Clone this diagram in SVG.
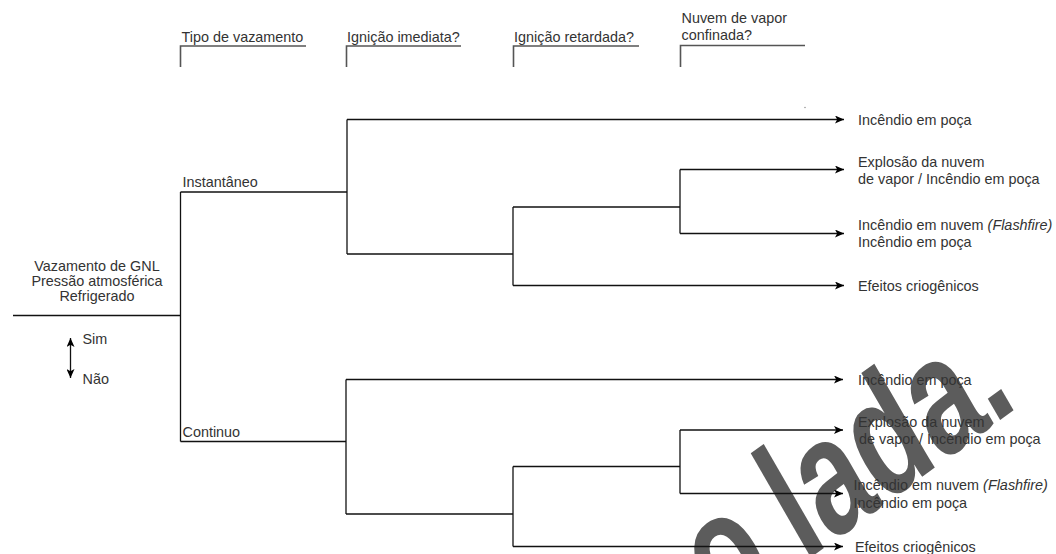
<svg xmlns="http://www.w3.org/2000/svg" width="1056" height="554" viewBox="0 0 1056 554">
  <defs>
    <marker id="arrow" viewBox="0 0 9 8" refX="9" refY="4" markerWidth="9" markerHeight="8" markerUnits="userSpaceOnUse" orient="auto-start-reverse">
      <path d="M0,0 L9,4 L0,8 L2.2,4 z" fill="#000"/>
    </marker>
    <style>
      text { font-family: "Liberation Sans", Arial, sans-serif; font-size: 14.4px; fill: #333; }
      .mid { text-anchor: middle; }
      .wire { fill: none; stroke: #111; stroke-width: 1.3; }
      .arr { fill: none; stroke: #111; stroke-width: 1.3; marker-end: url(#arrow); }
      .hdr { fill: none; stroke: #555; stroke-width: 1.6; }
      .stamp { font-family: "Liberation Sans", Arial, sans-serif; font-size: 165px; font-weight: bold; fill: #5c5c5c; text-anchor: end; }
    </style>
  </defs>

  <rect width="1056" height="554" fill="#fff"/>

  <!-- stamp in the background -->
  <g id="stamp" transform="translate(1020,405.6) rotate(-36) skewX(-6) scale(0.709,1)">
    <text class="stamp" x="-418" y="0">o</text>
    <text class="stamp" x="0" y="0">lada.</text>
  </g>

  <!-- column headers -->
  <g id="headers">
    <text x="181.5" y="41.5">Tipo de vazamento</text>
    <path class="hdr" d="M180.5,67 V46 H306"/>
    <text x="347" y="41.5">Ignição imediata?</text>
    <path class="hdr" d="M346.5,67 V46 H461"/>
    <text x="514" y="41.5">Ignição retardada?</text>
    <path class="hdr" d="M513.5,67 V46 H639"/>
    <text x="681.5" y="23">Nuvem de vapor</text>
    <text x="681.5" y="40">confinada?</text>
    <path class="hdr" d="M680.5,67 V45.5 H805"/>
  </g>
  <circle cx="805" cy="107.5" r="0.8" fill="#999"/>

  <!-- connectors -->
  <g id="connectors">
    <path class="wire" d="M13,315.5 H180.5"/>
    <path class="wire" d="M180.5,192 V441.5"/>
    <path class="wire" d="M180.5,192 H347"/>
    <path class="wire" d="M180.5,441.5 H346"/>

    <!-- upper subtree -->
    <path class="wire" d="M347,119.5 V254"/>
    <path class="arr" d="M347,119.5 H844"/>
    <path class="wire" d="M347,254 H513"/>
    <path class="wire" d="M513,207 V285.5"/>
    <path class="wire" d="M513,207 H680"/>
    <path class="wire" d="M680,169.5 V233.5"/>
    <path class="arr" d="M680,169.5 H844"/>
    <path class="arr" d="M680,233.5 H844"/>
    <path class="arr" d="M513,285.5 H844"/>

    <!-- lower subtree -->
    <path class="wire" d="M346,379.5 V514"/>
    <path class="arr" d="M346,379.5 H843"/>
    <path class="wire" d="M346,514 H513"/>
    <path class="wire" d="M513,466.5 V546.5"/>
    <path class="wire" d="M513,466.5 H680"/>
    <path class="wire" d="M680,430 V493.5"/>
    <path class="arr" d="M680,430 H843"/>
    <path class="arr" d="M680,493.5 H843"/>
    <path class="arr" d="M513,546.5 H843"/>
  </g>

  <!-- root event -->
  <g id="root">
    <text class="mid" x="97" y="271">Vazamento de GNL</text>
    <text class="mid" x="97" y="286">Pressão atmosférica</text>
    <text class="mid" x="97" y="301">Refrigerado</text>
  </g>

  <!-- legend -->
  <g id="legend">
    <path d="M70.5,338 V378" fill="none" stroke="#111" stroke-width="1.3" marker-start="url(#arrow)" marker-end="url(#arrow)"/>
    <text x="82.5" y="343.5">Sim</text>
    <text x="82.5" y="384">Não</text>
  </g>

  <!-- release types -->
  <g id="instantaneo"><text x="182.5" y="187">Instantâneo</text></g>
  <g id="continuo"><text x="182.5" y="436.5">Continuo</text></g>

  <!-- outcomes, instantaneous release -->
  <g id="out-i1"><text x="858" y="125">Incêndio em poça</text></g>
  <g id="out-i2">
    <text x="858" y="167">Explosão da nuvem</text>
    <text x="858" y="184">de vapor / Incêndio em poça</text>
  </g>
  <g id="out-i3">
    <text x="858" y="229.5">Incêndio em nuvem <tspan font-style="italic">(Flashfire)</tspan></text>
    <text x="858" y="246.5">Incêndio em poça</text>
  </g>
  <g id="out-i4"><text x="858" y="290.5">Efeitos criogênicos</text></g>

  <!-- outcomes, continuous release -->
  <g id="out-c1"><text x="858" y="384.5">Incêndio em poça</text></g>
  <g id="out-c2">
    <text x="858" y="427">Explosão da nuvem</text>
    <text x="859" y="444">de vapor / Incêndio em poça</text>
  </g>
  <g id="out-c3">
    <text x="853.5" y="490">Incêndio em nuvem <tspan font-style="italic">(Flashfire)</tspan></text>
    <text x="853.5" y="507.5">Incêndio em poça</text>
  </g>
  <g id="out-c4"><text x="855" y="551.5">Efeitos criogênicos</text></g>
</svg>
